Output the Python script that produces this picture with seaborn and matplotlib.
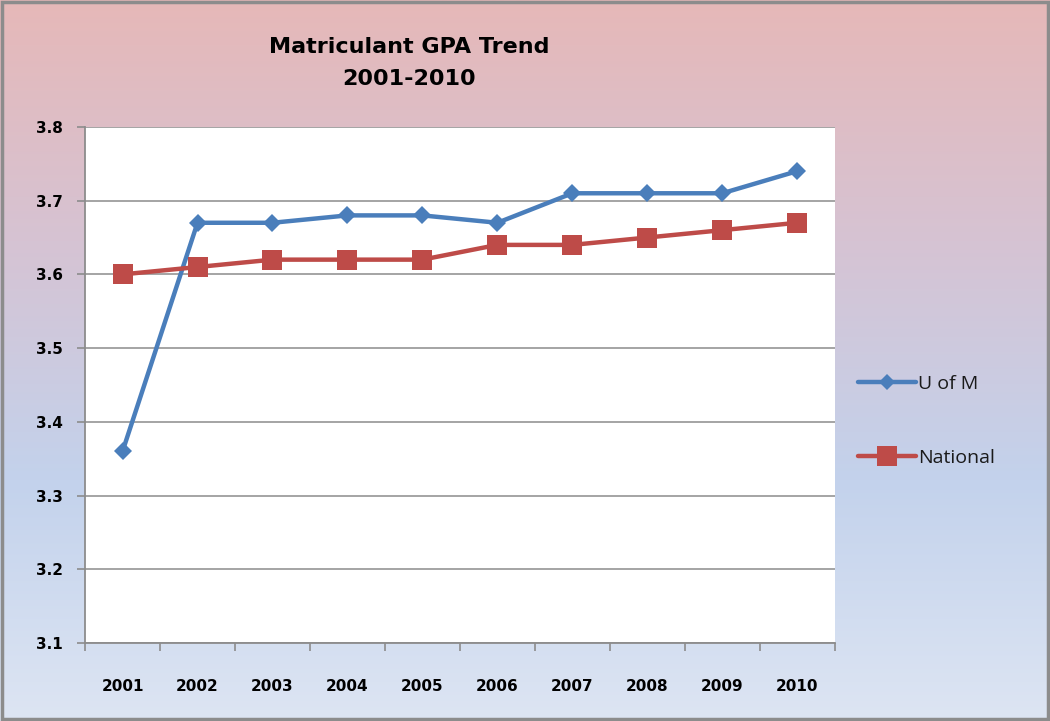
import numpy as np
import pandas as pd
import seaborn as sns
import matplotlib.pyplot as plt
from matplotlib.colors import LinearSegmentedColormap
from matplotlib.patches import Rectangle

years = ["2001", "2002", "2003", "2004", "2005", "2006", "2007", "2008", "2009", "2010"]
u_of_m = [3.36, 3.67, 3.67, 3.68, 3.68, 3.67, 3.71, 3.71, 3.71, 3.74]
national = [3.60, 3.61, 3.62, 3.62, 3.62, 3.64, 3.64, 3.65, 3.66, 3.67]
series_names = ["U of M", "National"]
y_ticks = [3.1, 3.2, 3.3, 3.4, 3.5, 3.6, 3.7, 3.8]

df = pd.DataFrame({
    "year": list(range(len(years))) * 2,
    "gpa": u_of_m + national,
    "series": [series_names[0]] * len(years) + [series_names[1]] * len(years),
})

sns.set_style("white")
plt.rcParams["font.family"] = ["DejaVu Sans"]
plt.rcParams["text.color"] = "black"
plt.rcParams["xtick.color"] = "#8c8c8c"
plt.rcParams["ytick.color"] = "#8c8c8c"
plt.rcParams["xtick.labelcolor"] = "black"
plt.rcParams["ytick.labelcolor"] = "black"

fig = plt.figure(figsize=(10.5, 7.21), dpi=100)

# gradient background (pink top -> blue -> pale blue bottom)
bg = fig.add_axes([0, 0, 1, 1], zorder=-10)
grad = LinearSegmentedColormap.from_list("bg", ["#e6b8b8", "#d6c3d3", "#c3d2ec", "#dde5f3"])
bg.imshow(np.linspace(0, 1, 256).reshape(-1, 1), aspect="auto", cmap=grad,
          extent=[0, 1, 0, 1], origin="upper")
bg.add_patch(Rectangle((0.002, 0.003), 0.996, 0.994, fill=False, edgecolor="#8c8c8c",
                       linewidth=2.5, transform=bg.transAxes))
bg.axis("off")

ax = fig.add_axes([0.081, 0.108, 0.714, 0.716])
ax.set_facecolor("white")

palette = {"U of M": "#4a7ebb", "National": "#be4b48"}
sns.lineplot(data=df, x="year", y="gpa", hue="series", style="series",
             markers={"U of M": "D", "National": "s"}, dashes=False,
             palette=palette, linewidth=3.2, ax=ax, legend=False)
for line, ms in zip(ax.lines, [9, 14]):
    line.set_markersize(ms)
    line.set_markeredgewidth(0)

ax.set_xlim(-0.5, len(years) - 0.5)
ax.set_ylim(3.1, 3.8)
ax.set_yticks(y_ticks)
ax.set_yticklabels([f"{t:.1f}" for t in y_ticks], fontsize=11, fontweight="bold")
ax.yaxis.grid(True, color="#8c8c8c", linewidth=1.1)
ax.set_axisbelow(True)

ax.set_xticks(np.arange(-0.5, len(years), 1.0), minor=False)
ax.set_xticklabels([])
ax.set_xticks(range(len(years)), minor=True)
ax.set_xticklabels(years, minor=True, fontsize=11, fontweight="bold")
ax.tick_params(axis="x", which="minor", bottom=True, length=0, pad=26)
ax.tick_params(axis="x", which="major", bottom=True, length=6, width=1.2, direction="out")
ax.tick_params(axis="y", left=True, length=6, width=1.2, direction="out", pad=10)

for side in ["top", "right"]:
    ax.spines[side].set_visible(False)
for side in ["left", "bottom"]:
    ax.spines[side].set_color("#8c8c8c")
    ax.spines[side].set_linewidth(1.3)

ax.set_xlabel("")
ax.set_ylabel("")

handles = [plt.Line2D([], [], color=palette[n], marker=m, markersize=s, markeredgewidth=0, linewidth=3.2)
           for n, m, s in zip(series_names, ["D", "s"], [8, 14])]
leg = fig.legend(handles, series_names, loc="center left", bbox_to_anchor=(0.8, 0.416),
                 frameon=False, handlelength=3.0, handletextpad=0.1,
                 labelspacing=2.9, prop={"family": ["Open Sans", "DejaVu Sans"], "size": 14})
for t in leg.get_texts():
    t.set_color("#1a1a1a")

fig.text(0.39, 0.935, "Matriculant GPA Trend", ha="center", va="center",
         fontsize=16, fontweight="bold")
fig.text(0.39, 0.89, "2001-2010", ha="center", va="center",
         fontsize=16, fontweight="bold")

fig.savefig("out.png", dpi=100)
